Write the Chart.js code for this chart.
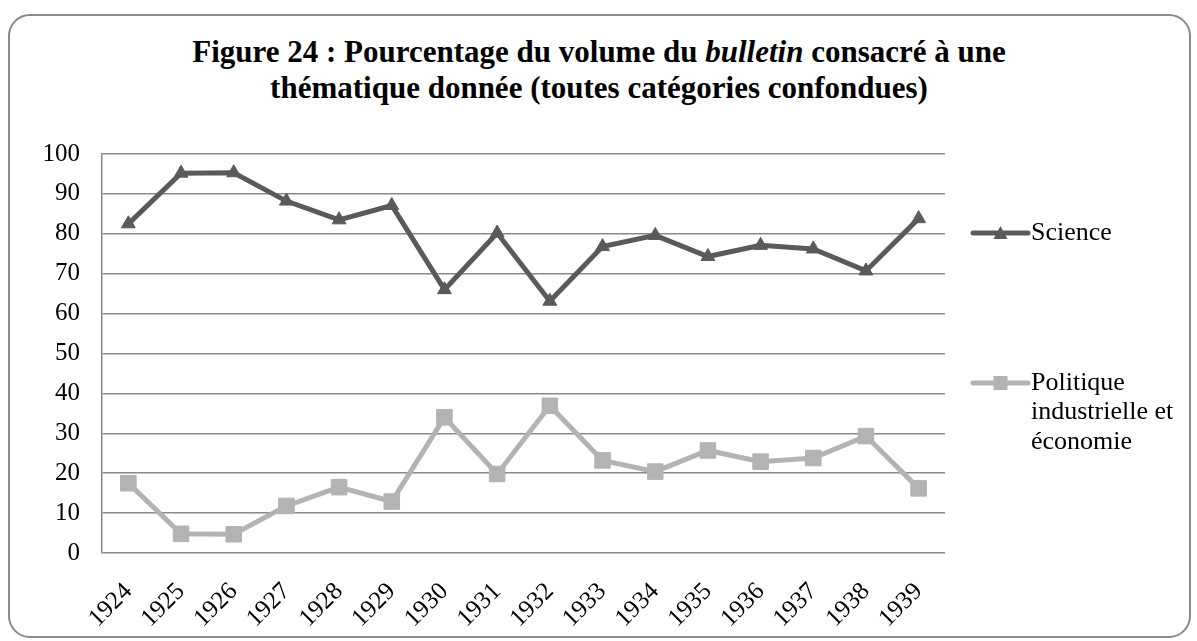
<!DOCTYPE html>
<html>
<head>
<meta charset="utf-8">
<script src="https://cdn.jsdelivr.net/npm/chart.js@4/dist/chart.umd.min.js"></script>
<style>
  body { margin: 0; background: #fff; }
  #frame {
    position: absolute; left: 8px; top: 14px; width: 1179px; height: 620px;
    border: 2px solid #8a8a8a; border-radius: 22px;
  }
  #title {
    position: absolute; left: 99px; width: 1000px; top: 34px;
    text-align: center; font: bold 31px "Liberation Serif", "Times New Roman", serif;
    line-height: 36px; color: #000;
  }
  canvas { position: absolute; left: 0; top: 0; }
</style>
</head>
<body>
<div id="frame"></div>
<div id="title">Figure 24 : Pourcentage du volume du <i>bulletin</i> consacré à une<br>thématique donnée (toutes catégories confondues)</div>
<canvas id="chart24" width="1197" height="641"></canvas>
<script>
var years = ['1924', '1925', '1926', '1927', '1928', '1929', '1930', '1931',
             '1932', '1933', '1934', '1935', '1936', '1937', '1938', '1939']

var science = [82.5, 95.2, 95.3, 88.2, 83.5, 87.1, 66.0, 80.2, 63.1, 76.8, 79.6, 74.3, 77.1, 76.2, 70.7, 83.8]

var politique = [17.5, 4.8, 4.7, 11.8, 16.5, 12.9, 34.0, 19.8, 36.9, 23.2, 20.4, 25.7, 22.9, 23.8, 29.3, 16.2]

var yTicks = [0, 10, 20, 30, 40, 50, 60, 70, 80, 90, 100]

var serif = '"Liberation Serif", "Times New Roman", serif'

// legend drawn at the right, like the spreadsheet one (wrapped text)
var sideLegend = {
    id: 'sideLegend',
    afterDraw: function (chart, args, opts) {
        var ctx = chart.ctx
        ctx.save()
        ctx.font = opts.fontSize + 'px ' + serif
        ctx.textBaseline = 'middle'
        chart.data.datasets.forEach(function (ds, i) {
            var x0 = opts.x, y = opts.rows[i]
            ctx.strokeStyle = ds.borderColor
            ctx.lineWidth = ds.borderWidth
            ctx.lineCap = 'round'
            ctx.beginPath()
            ctx.moveTo(x0, y)
            ctx.lineTo(x0 + opts.lineLength, y)
            ctx.stroke()
            var cx = x0 + opts.lineLength / 2, r = opts.markerSize[i]
            ctx.fillStyle = ds.pointBackgroundColor
            ctx.beginPath()
            if (ds.pointStyle === 'triangle') {
                ctx.moveTo(cx, y - r)
                ctx.lineTo(cx + r, y + r * 0.85)
                ctx.lineTo(cx - r, y + r * 0.85)
                ctx.closePath()
            } else {
                ctx.rect(cx - r, y - r, 2 * r, 2 * r)
            }
            ctx.fill()
            // wrap label
            var words = ds.label.split(' '), lines = [], cur = ''
            words.forEach(function (w) {
                var test = cur ? cur + ' ' + w : w
                if (cur && ctx.measureText(test).width > opts.maxWidth) {
                    lines.push(cur)
                    cur = w
                } else {
                    cur = test
                }
            })
            lines.push(cur)
            ctx.fillStyle = '#000'
            lines.forEach(function (line, k) {
                ctx.fillText(line, x0 + opts.lineLength + 3, y + k * opts.lineHeight)
            })
        })
        ctx.restore()
    }
}

var chart24 = new Chart(
    document.getElementById('chart24'),
    {
        type: 'line',
        data: {
            labels: years,
            datasets: [
                {
                    label: 'Science',
                    data: science,
                    borderColor: '#5a5a5a',
                    backgroundColor: '#5a5a5a',
                    pointBackgroundColor: '#5a5a5a',
                    pointBorderColor: '#5a5a5a',
                    borderWidth: 5,
                    pointStyle: 'triangle',
                    pointRadius: 8,
                    pointBorderWidth: 1,
                    tension: 0
                },
                {
                    label: 'Politique industrielle et économie',
                    data: politique,
                    borderColor: '#b3b3b3',
                    backgroundColor: '#b3b3b3',
                    pointBackgroundColor: '#b3b3b3',
                    pointBorderColor: '#b3b3b3',
                    borderWidth: 5,
                    pointStyle: 'rect',
                    pointRadius: 11,
                    pointBorderWidth: 1,
                    tension: 0
                }
            ]
        },
        plugins: [sideLegend],
        options: {
            responsive: false,
            animation: false,
            layout: {
                padding: { top: 154, right: 252, bottom: 0, left: 0 }
            },
            plugins: {
                legend: { display: false },
                title: { display: false },
                tooltip: { enabled: false },
                sideLegend: {
                    x: 973,
                    rows: [233, 383],
                    lineLength: 55,
                    markerSize: [7, 7],
                    fontSize: 26,
                    lineHeight: 29.5,
                    maxWidth: 160
                }
            },
            scales: {
                x: {
                    offset: true,
                    grid: { display: false, drawTicks: false },
                    border: { display: false },
                    ticks: {
                        autoSkip: false,
                        minRotation: 45,
                        maxRotation: 45,
                        padding: 24,
                        color: '#000',
                        font: { family: serif, size: 25 }
                    },
                    afterFit: function (s) { s.height = 88 }
                },
                y: {
                    min: 0,
                    max: 100,
                    afterBuildTicks: function (s) {
                        s.ticks = yTicks.map(function (v) { return { value: v } })
                    },
                    grid: { color: '#898989', lineWidth: 1.5, drawTicks: false },
                    border: { display: true, color: '#898989', width: 1.5 },
                    ticks: {
                        padding: 22,
                        color: '#000',
                        font: { family: serif, size: 25 }
                    },
                    afterFit: function (s) { s.width = 102 }
                }
            }
        }
    }
);
</script>
</body>
</html>
